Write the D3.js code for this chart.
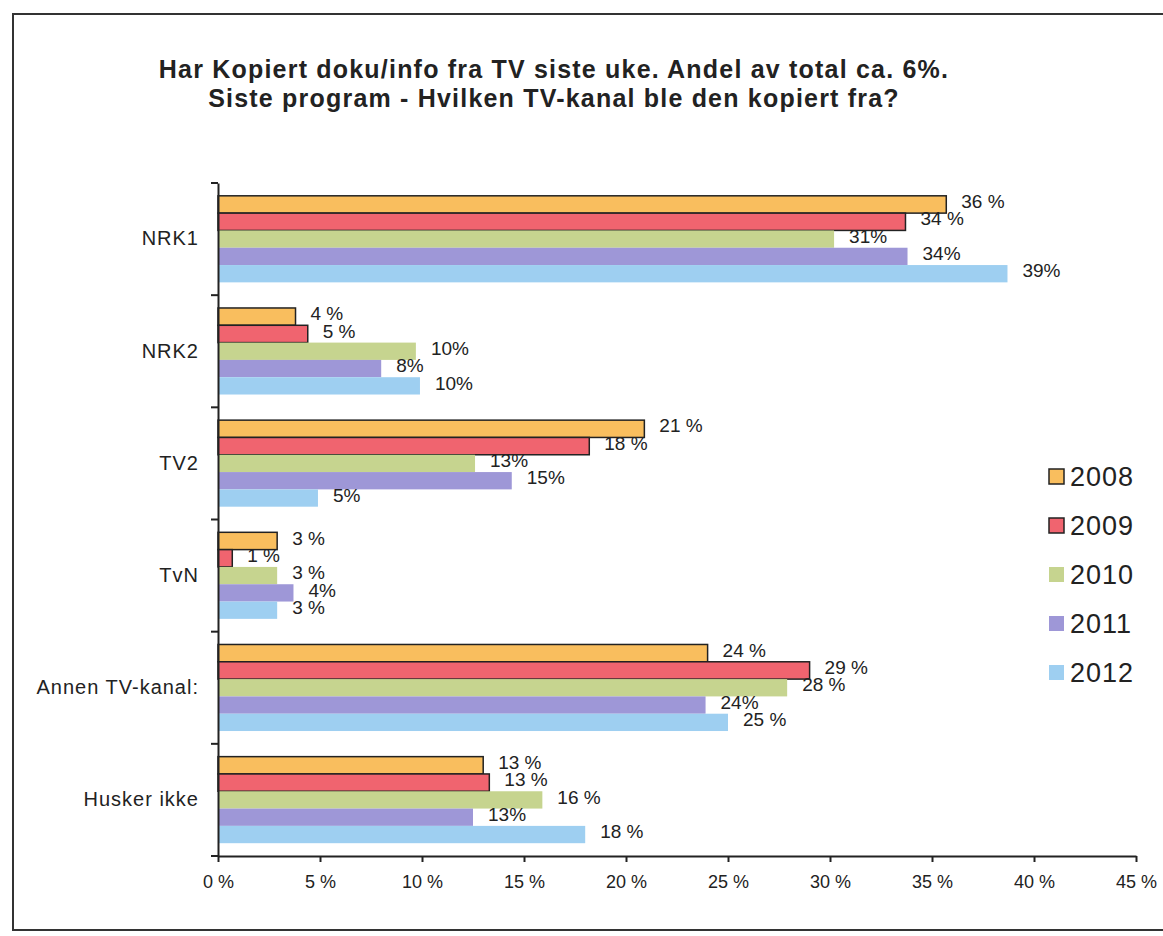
<!DOCTYPE html>
<html>
<head>
<meta charset="utf-8">
<script src="https://cdn.jsdelivr.net/npm/d3@7"></script>
<style>
  body{margin:0;background:#fff;}
  svg{display:block;font-family:"Liberation Sans",Arial,sans-serif;}
</style>
</head>
<body>
<svg id="chart"></svg>
<script>
var categories = ["NRK1","NRK2","TV2","TvN","Annen TV-kanal:","Husker ikke"];
var years = ["2008","2009","2010","2011","2012"];

var v2008 = [35.7, 3.8, 20.9, 2.9, 24.0, 13.0];
var v2009 = [33.7, 4.4, 18.2, 0.7, 29.0, 13.3];
var v2010 = [30.2, 9.7, 12.6, 2.9, 27.9, 15.9];
var v2011 = [33.8, 8.0, 14.4, 3.7, 23.9, 12.5];
var v2012 = [38.7, 9.9, 4.9, 2.9, 25.0, 18.0];

var l2008 = ["36 %","4 %","21 %","3 %","24 %","13 %"];
var l2009 = ["34 %","5 %","18 %","1 %","29 %","13 %"];
var l2010 = ["31%","10%","13%","3 %","28 %","16 %"];
var l2011 = ["34%","8%","15%","4%","24%","13%"];
var l2012 = ["39%","10%","5%","3 %","25 %","18 %"];

var xTicks = [0,5,10,15,20,25,30,35,40,45];

var titleLines = ["Har Kopiert doku/info fra TV siste uke. Andel av total ca. 6%.",
                  "Siste program - Hvilken TV-kanal ble den kopiert fra?"];

var colors = {"2008":"#f9be5e","2009":"#f0646f","2010":"#c6d48f","2011":"#9e97d7","2012":"#9ecff1"};
var outlined = {"2008":true,"2009":true};

function makeRows(){
  var vals = [v2008,v2009,v2010,v2011,v2012];
  var labs = [l2008,l2009,l2010,l2011,l2012];
  var rows = [];
  categories.forEach(function(c,i){
    years.forEach(function(y,j){
      rows.push({cat:c, year:y, value:vals[j][i], label:labs[j][i]});
    });
  });
  return rows;
}

function draw(){
  var width = 1163, height = 936;
  var svg = d3.select("#chart").attr("width",width).attr("height",height);

  // frame
  svg.append("rect")
     .attr("x",13).attr("y",14)
     .attr("width",1170).attr("height",916)
     .attr("fill","none").attr("stroke","#333").attr("stroke-width",2);

  // title
  svg.append("g").selectAll("text")
     .data(titleLines).enter().append("text")
     .attr("x",554)
     .attr("y",function(d,i){return 78+i*29;})
     .attr("text-anchor","middle")
     .attr("font-size",25).attr("font-weight","bold")
     .attr("letter-spacing",1.2)
     .attr("fill","#222")
     .text(function(d){return d;});

  var xScale = d3.scaleLinear().domain([0,45]).range([218,1136]);
  var yScale = d3.scaleBand().domain(categories).range([183,856]);
  var yInner = d3.scaleBand().domain(years)
                 .range([0,yScale.bandwidth()])
                 .paddingInner(0).paddingOuter(0.74);

  var rows = makeRows();

  // bars
  svg.append("g").selectAll("rect")
     .data(rows).enter().append("rect")
     .attr("x",xScale(0))
     .attr("y",function(d){return yScale(d.cat)+yInner(d.year);})
     .attr("width",function(d){return xScale(d.value)-xScale(0);})
     .attr("height",yInner.bandwidth())
     .attr("fill",function(d){return colors[d.year];})
     .attr("stroke",function(d){return outlined[d.year]?"#222":"none";})
     .attr("stroke-width",1.5);

  // value labels
  svg.append("g").selectAll("text")
     .data(rows).enter().append("text")
     .attr("x",function(d){return xScale(d.value)+15;})
     .attr("y",function(d){return yScale(d.cat)+yInner(d.year)+yInner.bandwidth()/2-3;})
     .attr("dy","0.35em")
     .attr("font-size",19)
     .attr("fill","#222")
     .text(function(d){return d.label;});

  // x axis
  var xAxis = d3.axisBottom(xScale)
                .tickValues(xTicks)
                .tickSize(6).tickSizeOuter(0).tickPadding(13)
                .tickFormat(function(d){return d+" %";});
  var gx = svg.append("g")
     .attr("transform","translate(0,856)")
     .call(xAxis);
  gx.select(".domain").attr("stroke","#222").attr("stroke-width",2);
  gx.selectAll(".tick line").attr("stroke","#222").attr("stroke-width",2);
  gx.selectAll(".tick text").attr("font-size",18).attr("fill","#222")
    .attr("font-family","Liberation Sans, Arial, sans-serif");

  // y axis
  var yAxis = d3.axisLeft(yScale).tickSize(0).tickPadding(19);
  var gy = svg.append("g")
     .attr("transform","translate(218,0)")
     .call(yAxis);
  gy.select(".domain").attr("stroke","#222").attr("stroke-width",2);
  gy.selectAll(".tick text").attr("font-size",20).attr("fill","#222")
    .attr("letter-spacing",1)
    .attr("font-family","Liberation Sans, Arial, sans-serif");

  var bounds = categories.map(function(c){return yScale(c);}).concat([yScale.range()[1]]);
  svg.append("g").selectAll("line")
     .data(bounds).enter().append("line")
     .attr("x1",xScale(0)-7).attr("x2",xScale(0))
     .attr("y1",function(d){return d;}).attr("y2",function(d){return d;})
     .attr("stroke","#222").attr("stroke-width",2);

  // legend
  var legend = svg.append("g").selectAll("g")
     .data(years).enter().append("g")
     .attr("transform",function(d,i){return "translate(1049,"+(477+i*49)+")";});
  legend.append("rect")
     .attr("x",0).attr("y",-8).attr("width",15).attr("height",15)
     .attr("fill",function(d){return colors[d];})
     .attr("stroke",function(d){return outlined[d]?"#222":"none";})
     .attr("stroke-width",1.5);
  legend.append("text")
     .attr("x",21).attr("y",0).attr("dy","0.35em")
     .attr("font-size",27).attr("fill","#222")
     .attr("letter-spacing",1)
     .text(function(d){return d;});
}

draw();
</script>
</body>
</html>
